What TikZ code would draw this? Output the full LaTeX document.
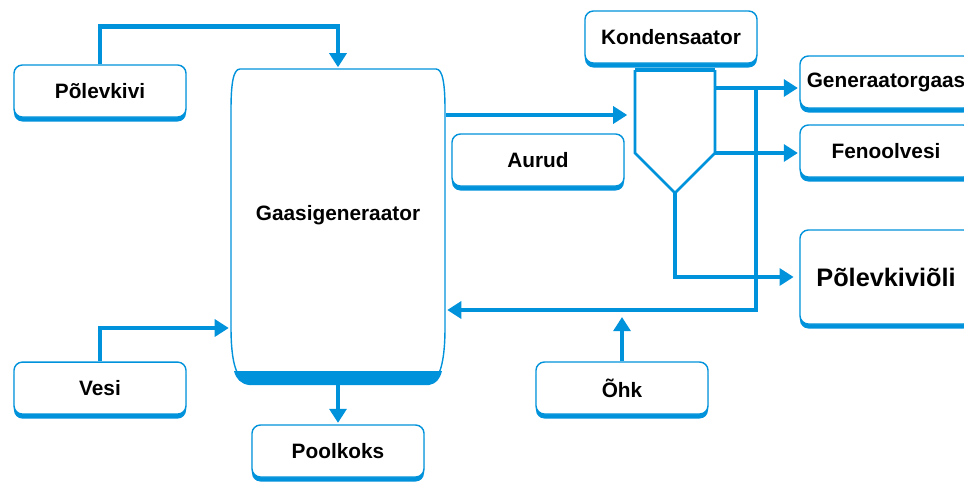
\documentclass[tikz,border=0pt]{standalone}
\usepackage{fontspec}
\setmainfont{Liberation Sans}
\usetikzlibrary{arrows.meta,positioning,shadows}
\definecolor{flowblue}{RGB}{0,146,218}
\tikzset{
procbox/.style={draw=flowblue, line width=1pt, rounded corners=6pt, fill=white,
  minimum width=4.3cm, minimum height=1.3cm, font=\fontsize{14.8}{17}\selectfont\bfseries,
  drop shadow={shadow xshift=0pt, shadow yshift=-3.2pt, fill=flowblue, opacity=1}}, % rounded boxes with a thick bottom
flow/.style={draw=flowblue, line width=3.5pt, shorten >=1pt, -{Triangle[length=10pt,width=12pt]}}, % thick flow arrows
pipe/.style={draw=flowblue, line width=1.8pt}, % outline of the condenser
}

\begin{document}
\begin{tikzpicture}[x=0.025cm, y=-0.025cm, on grid]
   \useasboundingbox (0,0) rectangle (964,481);
   \clip (0,0) rectangle (964,481);
   % inputs and outputs
   \node[procbox] (pol) at (100,91) {Põlevkivi};
   \node[procbox, below=7.425cm of pol] (vesi) {Vesi};
   \node[procbox] (pool) at (338,451) {Poolkoks};
   \node[procbox] (aurud) at (538,160) {Aurud};
   \node[procbox] (ohk) at (622,388) {Õhk};
   \node[procbox] (kond) at (671,37) {Kondensaator};
   \node[procbox] (gas) at (886,82) {Generaatorgaas};
   \node[procbox, below=1.725cm of gas] (fen) {Fenoolvesi};
   \node[procbox, minimum height=2.35cm, font=\fontsize{18}{21}\selectfont\bfseries] (oli) at (886,277) {Põlevkiviõli};
   % gas generator
   \node[minimum width=5.375cm, minimum height=7.9cm] (gen) at (338,227) {};
   \begin{scope}[shift={(gen.center)}]
      \draw[flowblue, line width=1pt] (-98,-158) -- (98,-158)
         .. controls (105,-158) and (107,-142) .. (107,-117) -- (107,100)
         .. controls (107,138) and (101,153) .. (91,157) -- (-89,157)
         .. controls (-101,153) and (-107,138) .. (-107,100) -- (-107,-117)
         .. controls (-107,-142) and (-105,-158) .. (-98,-158) -- cycle;
      \fill[flowblue] (-104,144) -- (104,144) .. controls (102,152) and (98,157) .. (91,158)
         -- (-89,158) .. controls (-97,157) and (-102,152) .. (-104,144) -- cycle;
   \end{scope}
   \node[font=\fontsize{14.8}{17}\selectfont\bfseries] (genname) at ([yshift=0.3cm]gen.center) {Gaasigeneraator};
   % condenser funnel
   \coordinate (fl) at (635,70);
   \coordinate (fr) at (715,70);
   \coordinate (fbl) at (635,153);
   \coordinate (fbr) at (715,153);
   \coordinate (ftip) at (675,193);
   \draw[pipe] (fl) -- (fbl) -- (ftip) -- (fbr) -- (fr);
   \draw[pipe, line width=3pt] (fl) -- (fr);
   % flows
   \coordinate (vin) at (0,328);
   \coordinate (aur) at (0,115);
   \coordinate (gasout) at (715,88);
   \coordinate (ret) at (756,88);
   \coordinate (mix) at (756,310);
   \draw[flow] (pol.north) -- ++(0,-38) -| (gen.north);
   \draw[flow] (vesi.north) |- (vin -| gen.west);
   \draw[flow] (gen.south) -- (pool.north);
   \draw[flow, shorten >=5.5pt] (aur -| gen.east) -- (aur -| fl);
   \draw[flow] (gasout) -- (gasout -| gas.west);
   \draw[flow] (fbr) -- (fbr -| fen.west);
   \draw[flow, shorten >=4pt] (ftip) |- (oli.west);
   \draw[flow] (ret) -- (mix) -- (mix -| gen.east);
   \draw[flow, shorten >=5pt] (ohk.north) -- (ohk.north |- mix);
\end{tikzpicture}
\end{document}
